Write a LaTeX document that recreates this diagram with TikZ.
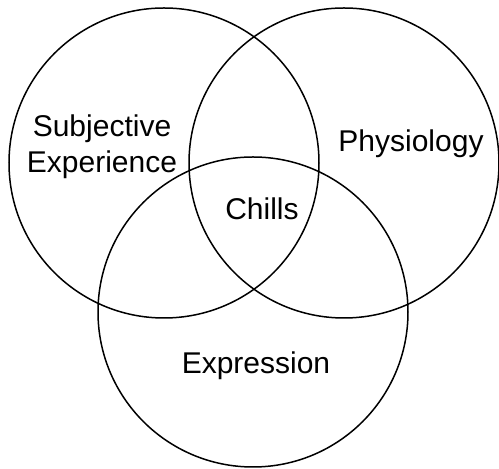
\documentclass[tikz,border=0pt]{standalone}
\usepackage{fontspec}
\setmainfont{Liberation Sans}
\usetikzlibrary{positioning}

\begin{document}
\begin{tikzpicture}[x=0.5pt,y=-0.5pt,
        ring/.style={draw,circle,line width=0.75pt,minimum size=155pt,inner sep=0pt},
        venntext/.style={font=\fontsize{15}{18}\selectfont,align=center,inner sep=0pt}]
        \useasboundingbox (0,0) rectangle (499,469);
        % Draw the three circles
        \node[ring] (subjring) at (164,163) {};
        \node[ring] (physring) at (344,163) {};
        \node[ring] (exprring) at (253,312) {};
        % Labels (anchor at the baseline of the last line)
        \node[venntext,anchor=base] (subj) at (102,173) {Subjective\\Experience};
        \node[venntext,anchor=base] (phys) at (411,152) {Physiology};
        \node[venntext,anchor=base] (chills) at (262,220) {Chills};
        \node[venntext,anchor=base] (expr) at (256,374) {Expression};
      \end{tikzpicture}
\end{document}
